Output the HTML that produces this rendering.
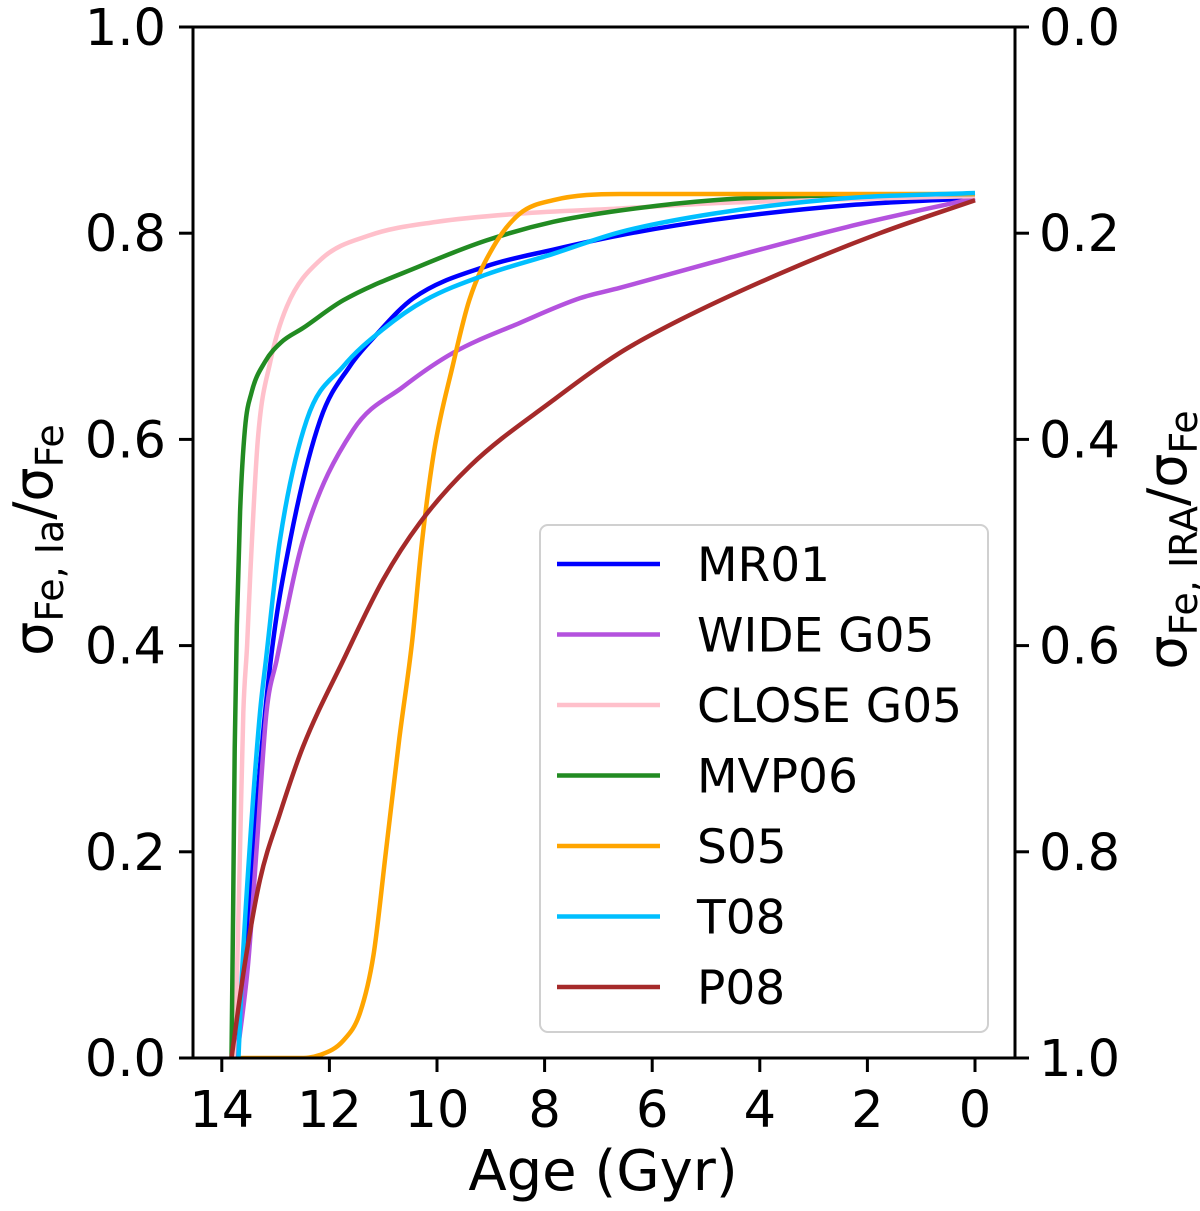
<!DOCTYPE html>
<html><head><meta charset="utf-8"><style>
html,body{margin:0;padding:0;background:#fff;}
svg text{font-family:"DejaVu Sans","Liberation Sans",sans-serif;fill:#000;}
</style></head><body>
<svg id="chart" width="1200" height="1206" viewBox="0 0 1200 1206" xmlns="http://www.w3.org/2000/svg">
<g id="plot"></g>
<g id="axes"></g>
</svg>
<script>
const xTicks = [14, 12, 10, 8, 6, 4, 2, 0];
const yTicks = [0, 0.2, 0.4, 0.6, 0.8, 1.0];
const yTickLabels = ["0.0", "0.2", "0.4", "0.6", "0.8", "1.0"];
const yRightTickLabels = ["1.0", "0.8", "0.6", "0.4", "0.2", "0.0"];
const seriesNames = ["MR01", "WIDE G05", "CLOSE G05", "MVP06", "S05", "T08", "P08"];
const seriesColors = ["#0000ff", "#b452de", "#ffc0cb", "#228b22", "#ffa500", "#00bfff", "#a52a2a"];
const mr01Age = [13.75, 13.57, 13.41, 13.09, 12.73, 12.17, 11.62, 11.12, 10.44, 9.08, 7.84, 6.60, 4.86, 2.38, 0];
const mr01Val = [0, 0.076, 0.205, 0.386, 0.502, 0.619, 0.671, 0.702, 0.737, 0.768, 0.784, 0.798, 0.813, 0.827, 0.834];
const wideAge = [13.72, 13.51, 13.35, 13.17, 12.98, 12.49, 11.56, 10.63, 9.70, 8.46, 7.34, 6.60, 4.86, 2.38, 0];
const wideVal = [0, 0.092, 0.205, 0.335, 0.386, 0.502, 0.609, 0.651, 0.684, 0.713, 0.737, 0.747, 0.772, 0.806, 0.834];
const closeAge = [13.78, 13.72, 13.66, 13.60, 13.53, 13.47, 13.33, 13.10, 12.79, 12.17, 11.25, 10.01, 8.46, 6.60, 4.86, 2.38, 0];
const closeVal = [0, 0.076, 0.205, 0.335, 0.400, 0.470, 0.600, 0.675, 0.729, 0.774, 0.798, 0.811, 0.819, 0.824, 0.829, 0.833, 0.836];
const mvpAge = [13.82, 13.79, 13.76, 13.72, 13.66, 13.57, 13.45, 13.2, 12.9, 12.49, 11.74, 10.32, 9.08, 7.84, 6.60, 4.86, 2.38, 0];
const mvpVal = [0, 0.141, 0.300, 0.420, 0.530, 0.610, 0.645, 0.675, 0.694, 0.708, 0.735, 0.768, 0.793, 0.811, 0.822, 0.832, 0.837, 0.838];
const s05Age = [13.72, 12.6, 12.17, 11.74, 11.43, 11.18, 10.95, 10.7, 10.46, 10.28, 10.05, 9.71, 9.40, 8.95, 8.46, 7.84, 6.60, 4, 0];
const s05Val = [0, 0, 0.003, 0.017, 0.044, 0.100, 0.200, 0.310, 0.405, 0.500, 0.590, 0.671, 0.735, 0.787, 0.819, 0.832, 0.838, 0.838, 0.838];
const t08Age = [13.69, 13.63, 13.48, 13.29, 13.18, 12.92, 12.42, 11.74, 11.0, 10.22, 9.08, 7.84, 6.60, 4.86, 2.38, 0];
const t08Val = [0, 0.076, 0.205, 0.335, 0.386, 0.502, 0.619, 0.671, 0.707, 0.735, 0.760, 0.780, 0.801, 0.819, 0.834, 0.839];
const p08Age = [13.82, 13.57, 13.29, 12.92, 12.49, 11.74, 11.0, 10.32, 9.39, 7.84, 6.60, 5.48, 3.62, 1.77, 0];
const p08Val = [0, 0.092, 0.173, 0.237, 0.302, 0.386, 0.464, 0.519, 0.574, 0.638, 0.684, 0.716, 0.761, 0.800, 0.832];
const seriesAges = [mr01Age, wideAge, closeAge, mvpAge, s05Age, t08Age, p08Age];
const seriesVals = [mr01Val, wideVal, closeVal, mvpVal, s05Val, t08Val, p08Val];

const NS = "http://www.w3.org/2000/svg";
const L = 193, R = 1015, T = 27, B = 1058;
function xs(a){ return 975 - a * 53.8; }
function ys(v){ return B - v * (B - T); }
function mk(tag, attrs, parent){
  const e = document.createElementNS(NS, tag);
  for (const k in attrs) e.setAttribute(k, attrs[k]);
  parent.appendChild(e); return e;
}
function monoPath(px, py){
  const n = px.length, d = [], m = new Array(n);
  for (let i = 0; i < n-1; i++) d.push((py[i+1]-py[i])/(px[i+1]-px[i]));
  m[0] = d[0]; m[n-1] = d[n-2];
  for (let i = 1; i < n-1; i++) m[i] = (d[i-1]*d[i] <= 0) ? 0 : (d[i-1]+d[i])/2;
  for (let i = 0; i < n-1; i++){
    if (d[i] === 0){ m[i] = 0; m[i+1] = 0; continue; }
    const a = m[i]/d[i], b = m[i+1]/d[i], s = a*a + b*b;
    if (s > 9){ const t = 3/Math.sqrt(s); m[i] = t*a*d[i]; m[i+1] = t*b*d[i]; }
  }
  let s = "M" + px[0].toFixed(2) + "," + py[0].toFixed(2);
  for (let i = 0; i < n-1; i++){
    const h = (px[i+1]-px[i])/3;
    s += " C" + (px[i]+h).toFixed(2) + "," + (py[i]+m[i]*h).toFixed(2) + " " + (px[i+1]-h).toFixed(2) + "," + (py[i+1]-m[i+1]*h).toFixed(2) + " " + px[i+1].toFixed(2) + "," + py[i+1].toFixed(2);
  }
  return s;
}
const plot = document.getElementById("plot");
const clip = mk("clipPath", {id: "clipP"}, plot);
mk("rect", {x: L, y: T, width: R-L, height: B-T}, clip);
const lines = mk("g", {"clip-path": "url(#clipP)"}, plot);
seriesNames.forEach((n, i) => {
  const px = seriesAges[i].map(a => xs(a));
  const py = seriesVals[i].map(v => ys(v));
  const p = mk("path", {d: monoPath(px, py), fill: "none", stroke: seriesColors[i], "stroke-width": 4.5, "stroke-linejoin": "round"}, lines);
  
  
});

const axes = document.getElementById("axes");
const frame = mk("rect", {x: L, y: T, width: R-L, height: B-T, fill: "none", stroke: "#000", "stroke-width": 3}, axes);


xTicks.forEach(t => {
  const x = xs(t);
  const tk = mk("line", {x1: x, x2: x, y1: B, y2: B + 14, stroke: "#000", "stroke-width": 3}, axes);
  
  
  const tx = mk("text", {x: x, y: 1127, "font-size": 51, "text-anchor": "middle"}, axes);
  tx.textContent = String(t);
  
  
});
yTicks.forEach((t, i) => {
  const y = ys(t);
  const tk = mk("line", {x1: L - 14, x2: L, y1: y, y2: y, stroke: "#000", "stroke-width": 3}, axes);
  
  
  const tx = mk("text", {x: 166, y: y + 18, "font-size": 51, "text-anchor": "end"}, axes);
  tx.textContent = yTickLabels[i];
  
  
  const tk2 = mk("line", {x1: R, x2: R + 14, y1: y, y2: y, stroke: "#000", "stroke-width": 3}, axes);
  
  
  const tx2 = mk("text", {x: 1039, y: y + 18, "font-size": 51, "text-anchor": "start"}, axes);
  tx2.textContent = yRightTickLabels[i];
  
  
});
</script>
<svg style="position:absolute;left:0;top:0" width="1200" height="1206" xmlns="http://www.w3.org/2000/svg">
<text x="603" y="1190" font-size="56" text-anchor="middle" style="font-family:'DejaVu Sans','Liberation Sans',sans-serif">Age (Gyr)</text>
<text transform="translate(52,540) rotate(-90)" font-size="54" text-anchor="middle" style="font-family:'DejaVu Sans','Liberation Sans',sans-serif">σ<tspan font-size="38" dy="11">Fe, Ia</tspan><tspan dy="-11">/σ</tspan><tspan font-size="38" dy="11">Fe</tspan></text>
<text transform="translate(1186,540) rotate(-90)" font-size="54" text-anchor="middle" style="font-family:'DejaVu Sans','Liberation Sans',sans-serif">σ<tspan font-size="38" dy="11">Fe, IRA</tspan><tspan dy="-11">/σ</tspan><tspan font-size="38" dy="11">Fe</tspan></text>
<g>
<rect x="540" y="525" width="448" height="507" rx="8" fill="#fff" fill-opacity="0.85" stroke="#d0d0d0" stroke-width="2"/>
</g>
<g id="legendEntries" style="font-family:'DejaVu Sans','Liberation Sans',sans-serif" font-size="47"></g>
</svg>
<script>
(function(){
  const NS2 = "http://www.w3.org/2000/svg";
  const g = document.getElementById("legendEntries");
  seriesNames.forEach((n, i) => {
    const y = 564 + i * 70.5;
    const ln = document.createElementNS(NS2, "line");
    ln.setAttribute("x1", 557); ln.setAttribute("x2", 660);
    ln.setAttribute("y1", y); ln.setAttribute("y2", y);
    ln.setAttribute("stroke", seriesColors[i]); ln.setAttribute("stroke-width", 4.5);
    
    
    g.appendChild(ln);
    const t = document.createElementNS(NS2, "text");
    t.setAttribute("x", 697); t.setAttribute("y", y + 17);
    t.textContent = n;
    
    
    g.appendChild(t);
  });
})();
</script>
</body></html>
